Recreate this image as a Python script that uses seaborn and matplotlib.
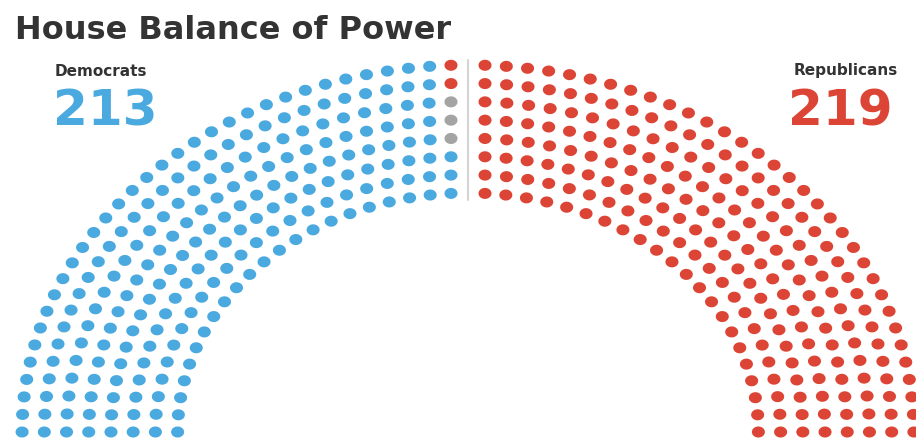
import numpy as np
import pandas as pd
import matplotlib
matplotlib.use("Agg")
import matplotlib.pyplot as plt
import seaborn as sns
from matplotlib.path import Path

# House seats by party
parties = ['Democrats', 'Vacant', 'Republicans']
seats = [213, 3, 219]
colors = ['#4aa9df', '#a4a4a4', '#dc4535']

# hemicycle layout: 8 rows, seats per row on each side of the aisle
radii = np.linspace(239, 367, 8)
row_left = [22, 23, 25, 27, 28, 29, 31, 33]
row_right = [22, 23, 25, 26, 28, 29, 31, 33]
aisle = 14

pos = []
for r, nl, nr in zip(radii, row_left, row_right):
    d = aisle / r
    for t in np.linspace(np.pi / 2 + d, np.pi, nl):
        pos.append((r, t))
    for t in np.linspace(np.pi / 2 - d, 0, nr):
        pos.append((r, t))

df = pd.DataFrame(pos, columns=['r', 'theta'])
df = df.sort_values('theta', ascending=False).reset_index(drop=True)
df['party'] = np.repeat(parties, seats)
df['x'] = df['r'] * np.cos(df['theta'])
df['y'] = df['r'] * np.sin(df['theta'])

sns.set_style("white")

W, H = 916, 438
fig = plt.figure(figsize=(W / 100, H / 100), dpi=100)
ax = fig.add_axes([0, 0, 1, 1])

# slightly wide ellipse for each seat
t = np.linspace(0, 2 * np.pi, 64)
seat_marker = Path(np.column_stack([1.18 * np.cos(t), np.sin(t)]))

sns.scatterplot(data=df, x='x', y='y', hue='party',
                palette=dict(zip(parties, colors)),
                marker=seat_marker, s=88, linewidth=0,
                legend=False, ax=ax)

# map: center of hemicycle at pixel (468, 432), horizontal stretch 1.215
sx, cx, cy = 1.215, 468, 432
ax.set_xlim(-cx / sx, (W - cx) / sx)
ax.set_ylim(cy - H, cy)
ax.axvline(0, ymin=(H - 200) / H, ymax=(H - 60) / H, color='#d4d4d4', lw=1.5)
ax.axis('off')

def px(x, y):
    return x / W, 1 - y / H

fig.text(*px(15, 39), "House Balance of Power", fontsize=23, fontweight='bold',
         color='#333333', va='baseline', ha='left')
fig.text(*px(55, 76), "Democrats", fontsize=11, fontweight='bold',
         color='#333333', va='baseline', ha='left')
fig.text(*px(53, 125), str(seats[0]), fontsize=36, fontweight='bold',
         color=colors[0], va='baseline', ha='left')
fig.text(*px(898, 75), "Republicans", fontsize=11, fontweight='bold',
         color='#333333', va='baseline', ha='right')
fig.text(*px(893, 125), str(seats[2]), fontsize=36, fontweight='bold',
         color=colors[2], va='baseline', ha='right')

fig.savefig("out.png", dpi=100)
